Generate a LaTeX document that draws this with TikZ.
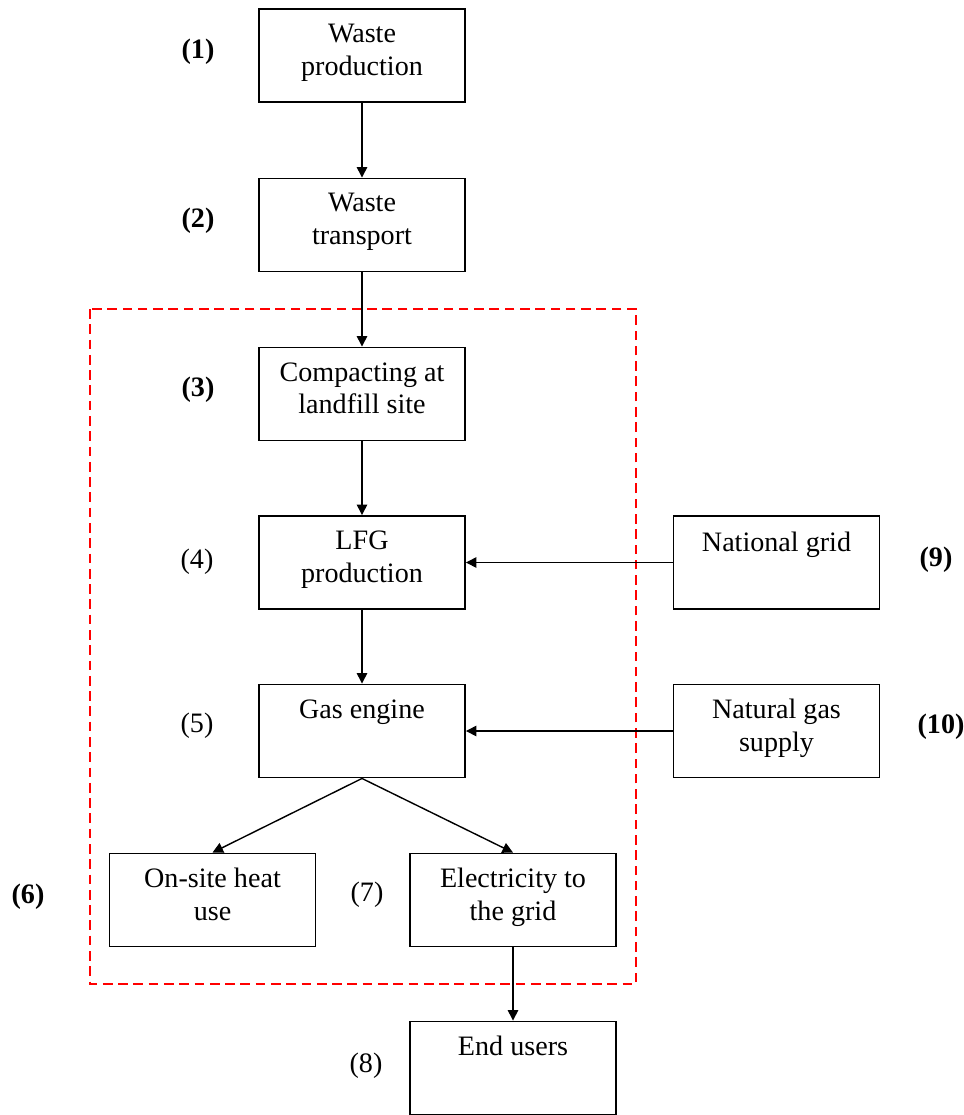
\documentclass[tikz,border=0pt]{standalone}
\usepackage{fontspec}
\setmainfont{Liberation Serif}
\usepackage{tikz}
\usetikzlibrary{arrows.meta}

\tikzset{
  stage/.style={rectangle, draw, line width=1.1pt, minimum width=4.12cm, minimum height=1.86cm, inner sep=0pt},
  stagetext/.style={inner sep=0pt, align=center, anchor=north, font=\fontsize{16}{18.7}\selectfont},
  num/.style={inner sep=0pt, font=\fontsize{16}{18.7}\selectfont},
  flow/.style={line width=0.8pt, -{Triangle[length=6pt,width=6pt]}},
  bound/.style={draw=red, line width=1.1pt, dash pattern=on 5.5pt off 3.2pt}
}

\begin{document}
\begin{tikzpicture}[x=0.02cm,y=-0.02cm]
\useasboundingbox (0,0) rectangle (963,1115);

% system boundary
\draw[bound] (90,309) rectangle (636,984);

\node[stage] (prod) at (362,55.5) {};
\node[stage] (trans) at (362,225) {};
\node[stage] (comp) at (362,394) {};
\node[stage] (lfg) at (362,562.5) {};
\node[stage] (engine) at (362,731) {};
\node[stage] (heat) at (212.5,900) {};
\node[stage] (elec) at (513,900) {};
\node[stage] (users) at (513,1068) {};
\node[stage] (natgrid) at (776.5,562.5) {};
\node[stage] (natgas) at (776.5,731) {};

\node[stagetext] (tprod) at ([yshift=-0.31cm]prod.north) {Waste\\production};
\node[stagetext] (ttrans) at ([yshift=-0.31cm]trans.north) {Waste\\transport};
\node[stagetext] (tcomp) at ([yshift=-0.31cm]comp.north) {Compacting at\\landfill site};
\node[stagetext] (tlfg) at ([yshift=-0.31cm]lfg.north) {LFG\\production};
\node[stagetext] (tengine) at ([yshift=-0.31cm]engine.north) {Gas engine};
\node[stagetext] (theat) at ([yshift=-0.31cm]heat.north) {On-site heat\\use};
\node[stagetext] (telec) at ([yshift=-0.31cm]elec.north) {Electricity to\\the grid};
\node[stagetext] (tusers) at ([yshift=-0.31cm]users.north) {End users};
\node[stagetext] (tnatgrid) at ([yshift=-0.33cm]natgrid.north) {National grid};
\node[stagetext] (tnatgas) at ([yshift=-0.31cm]natgas.north) {Natural gas\\supply};

\node[num] (n1) at (198,52) {\textbf{(1)}};
\node[num] (n2) at (198,221) {\textbf{(2)}};
\node[num] (n3) at (198,390) {\textbf{(3)}};
\node[num] (n4) at (197,562) {(4)};
\node[num] (n5) at (197,726) {(5)};
\node[num] (n6) at (28,897) {\textbf{(6)}};
\node[num] (n7) at (367,895) {(7)};
\node[num] (n8) at (366,1066) {(8)};
\node[num] (n9) at (936,560) {\textbf{(9)}};
\node[num] (n10) at (941,727) {\textbf{(10)}};

\draw[flow] (prod) -- (trans);
\draw[flow] (trans) -- (comp);
\draw[flow] (comp) -- (lfg);
\draw[flow] (lfg) -- (engine);
\draw[flow] (engine.south) -- (heat.north);
\draw[flow] (engine.south) -- (elec.north);
\draw[flow] (elec) -- (users);
\draw[flow] (natgrid) -- (lfg);
\draw[flow] (natgas) -- (engine);
\end{tikzpicture}
\end{document}
